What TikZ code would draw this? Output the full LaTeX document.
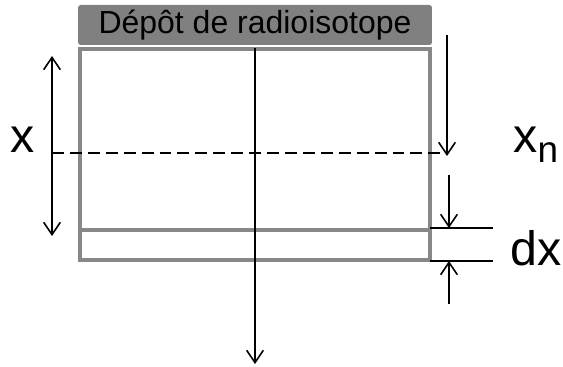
\documentclass[tikz,border=0pt]{standalone}
\usepackage{fontspec}
\setmainfont{Liberation Sans}
\usetikzlibrary{arrows.meta}
\definecolor{hdrgray}{RGB}{128,128,128}
\definecolor{boxgray}{RGB}{135,135,135}

\begin{document}
\begin{tikzpicture}[
    x=0.02cm, y=-0.02cm,
    header/.style={rectangle, fill=hdrgray, rounded corners=1.5pt, minimum width=7.08cm, minimum height=0.8cm, inner sep=0pt, font=\fontsize{18.2}{20}\selectfont},
    frame/.style={draw=boxgray, line width=2.2pt},
    bigtext/.style={inner sep=0pt, font=\fontsize{27.5}{30}\selectfont},
    tick/.style={line width=0.9pt},
    arrow/.style={-{Straight Barb[length=7pt, width=9.5pt]}, line width=0.9pt},
    twoway/.style={{Straight Barb[length=7pt, width=9.5pt]}-{Straight Barb[length=7pt, width=9.5pt]}, line width=0.9pt}
]
\useasboundingbox (0,0) rectangle (563,367);

% Radioisotope deposit and slab
\node[header] (depot) at (255,25) {Dépôt de radioisotope\hspace{14pt}};
\draw[frame] (80,49) rectangle (430,260);
\draw[frame] (80,230) -- (430,230);

% Points for the arrows
\coordinate (xtop) at (52,56);
\coordinate (xbot) at (52,236);
\coordinate (dashL) at (52,153);
\coordinate (dashR) at (440,153);
\coordinate (midtop) at (255,48);
\coordinate (midbot) at (255,364);
\coordinate (xntop) at (447,35);
\coordinate (xnbot) at (447,156);
\coordinate (tickA) at (430,228);
\coordinate (tickAe) at (493,228);
\coordinate (tickB) at (430,261);
\coordinate (tickBe) at (493,261);
\coordinate (dxtop) at (449,175);
\coordinate (dxbot) at (449,304);

% Depth x
\draw[twoway] (xtop) -- (xbot);
\draw[tick, dash pattern=on 6.8pt off 3.4pt] (dashL) -- (dashR);
\draw[arrow] (midtop) -- (midbot);
\draw[arrow] (xntop) -- (xnbot);

% Layer dx
\draw[tick] (tickA) -- (tickAe);
\draw[tick] (tickB) -- (tickBe);
\draw[arrow] (dxtop) -- (tickA -| dxtop);
\draw[arrow] (dxbot) -- (tickB -| dxbot);

% Labels
\node[bigtext, anchor=base] (xlab) at (23,153) {x};
\node[bigtext, anchor=base west] (xnlab) at (513,153) {x\raisebox{-5.5pt}{\fontsize{21}{24}\selectfont n}};
\node[bigtext, anchor=base west] (dxlab) at (510,265) {dx};

\end{tikzpicture}
\end{document}
